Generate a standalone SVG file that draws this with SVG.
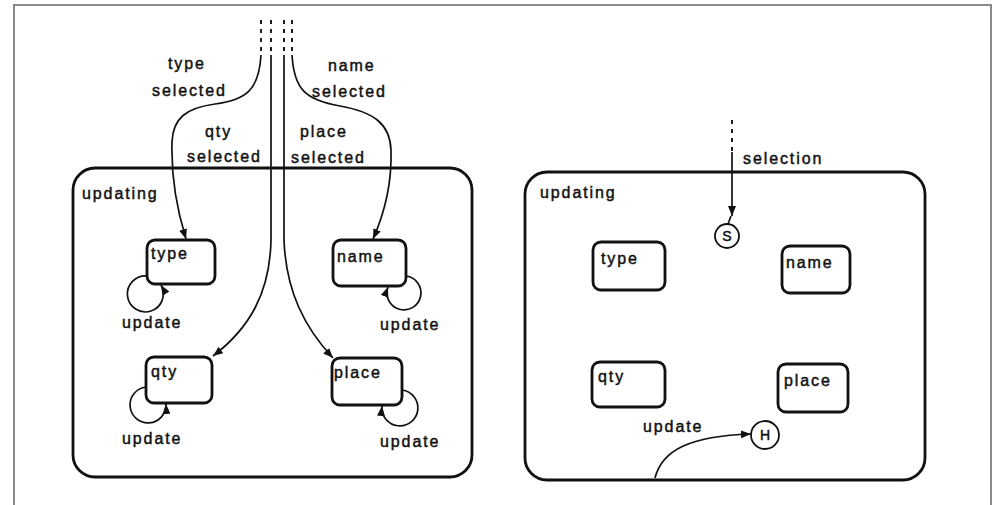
<svg xmlns="http://www.w3.org/2000/svg" width="993" height="505" viewBox="0 0 993 505">
  <defs>
    <marker id="arrow" viewBox="0 0 10 8" refX="10" refY="4" markerWidth="10" markerHeight="8" markerUnits="userSpaceOnUse" orient="auto">
      <path d="M0,0 L10,4 L0,8 Z" fill="#111"/>
    </marker>
    <style>
      text { font-family: "Liberation Sans", Arial, sans-serif; font-size: 16px; letter-spacing: 1.9px; fill: #111; stroke: #111; stroke-width: 0.45; }
      .state { fill: none; stroke: #111; stroke-width: 2.8; }
      .box { fill: #fff; stroke: #111; stroke-width: 2.8; }
      .edge { fill: none; stroke: #111; stroke-width: 1.7; }
      .dash { fill: none; stroke: #111; stroke-width: 1.9; stroke-dasharray: 4 5; }
      .conn { fill: #fff; stroke: #111; stroke-width: 1.8; }
      .conn-label { font-size: 14px; letter-spacing: 0; text-anchor: middle; }
    </style>
  </defs>

  <!-- page frame -->
  <rect x="14" y="5" width="977" height="520" fill="#fff" stroke="#8a8a8a" stroke-width="2"/>

  <!-- ===== left panel: explicit entries ===== -->
  <g id="updating-left">
    <rect class="state" x="73" y="168" width="399" height="309" rx="22"/>
    <text x="82" y="199">updating</text>
  </g>

  <g id="type-left">
    <rect class="box" x="147" y="240" width="68" height="44" rx="8"/>
    <text x="151" y="259">type</text>
  </g>
  <g id="name-left">
    <rect class="box" x="333" y="240" width="73" height="46" rx="8"/>
    <text x="337" y="262">name</text>
  </g>
  <g id="qty-left">
    <rect class="box" x="146" y="357" width="66" height="46" rx="8"/>
    <text x="151" y="377">qty</text>
  </g>
  <g id="place-left">
    <rect class="box" x="332" y="358" width="70" height="47" rx="8"/>
    <text x="334" y="378">place</text>
  </g>

  <!-- ===== right panel: selection via S connector, history entry ===== -->
  <g id="updating-right">
    <rect class="state" x="525" y="172" width="400" height="308" rx="22"/>
    <text x="540" y="198">updating</text>
  </g>

  <g id="type-right">
    <rect class="box" x="593" y="242" width="72" height="48" rx="8"/>
    <text x="601" y="264">type</text>
  </g>
  <g id="name-right">
    <rect class="box" x="782" y="246" width="68" height="47" rx="8"/>
    <text x="786" y="268">name</text>
  </g>
  <g id="qty-right">
    <rect class="box" x="592" y="362" width="73" height="45" rx="8"/>
    <text x="598" y="382">qty</text>
  </g>
  <g id="place-right">
    <rect class="box" x="778" y="364" width="70" height="48" rx="8"/>
    <text x="784" y="386">place</text>
  </g>

  <g id="selection-connector">
    <circle class="conn" cx="727" cy="236" r="12"/>
    <text class="conn-label" x="727" y="241">S</text>
  </g>
  <g id="history-connector">
    <circle class="conn" cx="765" cy="435" r="14"/>
    <text class="conn-label" x="765" y="440">H</text>
  </g>

  <!-- ===== connectors ===== -->
  <g id="connectors">
    <!-- left panel: four entry transitions coming from off-chart -->
    <path class="dash" d="M261,20 V55 M271,20 V55 M284,20 V55 M292,20 V55"/>
    <path class="edge" marker-end="url(#arrow)" d="M261,55 C259,90 246,100 215,104 C186,108 173,118 172,142 C171,178 177,210 186,239"/>
    <path class="edge" marker-end="url(#arrow)" d="M292,55 C294,90 306,100 340,106 C374,112 390,124 391,150 C392,182 385,212 373,239"/>
    <path class="edge" marker-end="url(#arrow)" d="M271,55 L271,240 C270,292 250,328 213,356"/>
    <path class="edge" marker-end="url(#arrow)" d="M284,55 L284,240 C286,292 305,328 333,358"/>

    <!-- self loops (update) -->
    <path class="edge" marker-end="url(#arrow)" d="M147,276 A18,18 0 1,0 161,285"/>
    <path class="edge" marker-end="url(#arrow)" d="M406,276 A17,17 0 1,1 388,287"/>
    <path class="edge" marker-end="url(#arrow)" d="M146,387 A18,18 0 1,0 166,404"/>
    <path class="edge" marker-end="url(#arrow)" d="M402,390 A18,18 0 1,1 382,406"/>

    <!-- right panel -->
    <path class="dash" d="M732,120 V152"/>
    <path class="edge" marker-end="url(#arrow)" d="M732,152 V216"/>
    <path class="edge" d="M731,216 L728,224"/>
    <path class="edge" marker-end="url(#arrow)" d="M655,478 C662,450 690,436 751,434"/>
  </g>

  <!-- transition labels -->
  <g id="labels">
    <text x="168" y="69">type</text>
    <text x="152" y="96">selected</text>
    <text x="205" y="137">qty</text>
    <text x="187" y="162">selected</text>
    <text x="328" y="71">name</text>
    <text x="312" y="97">selected</text>
    <text x="300" y="137">place</text>
    <text x="291" y="163">selected</text>
    <text x="122" y="328">update</text>
    <text x="380" y="330">update</text>
    <text x="122" y="444">update</text>
    <text x="380" y="447">update</text>
    <text x="743" y="164">selection</text>
    <text x="643" y="432">update</text>
  </g>
</svg>
